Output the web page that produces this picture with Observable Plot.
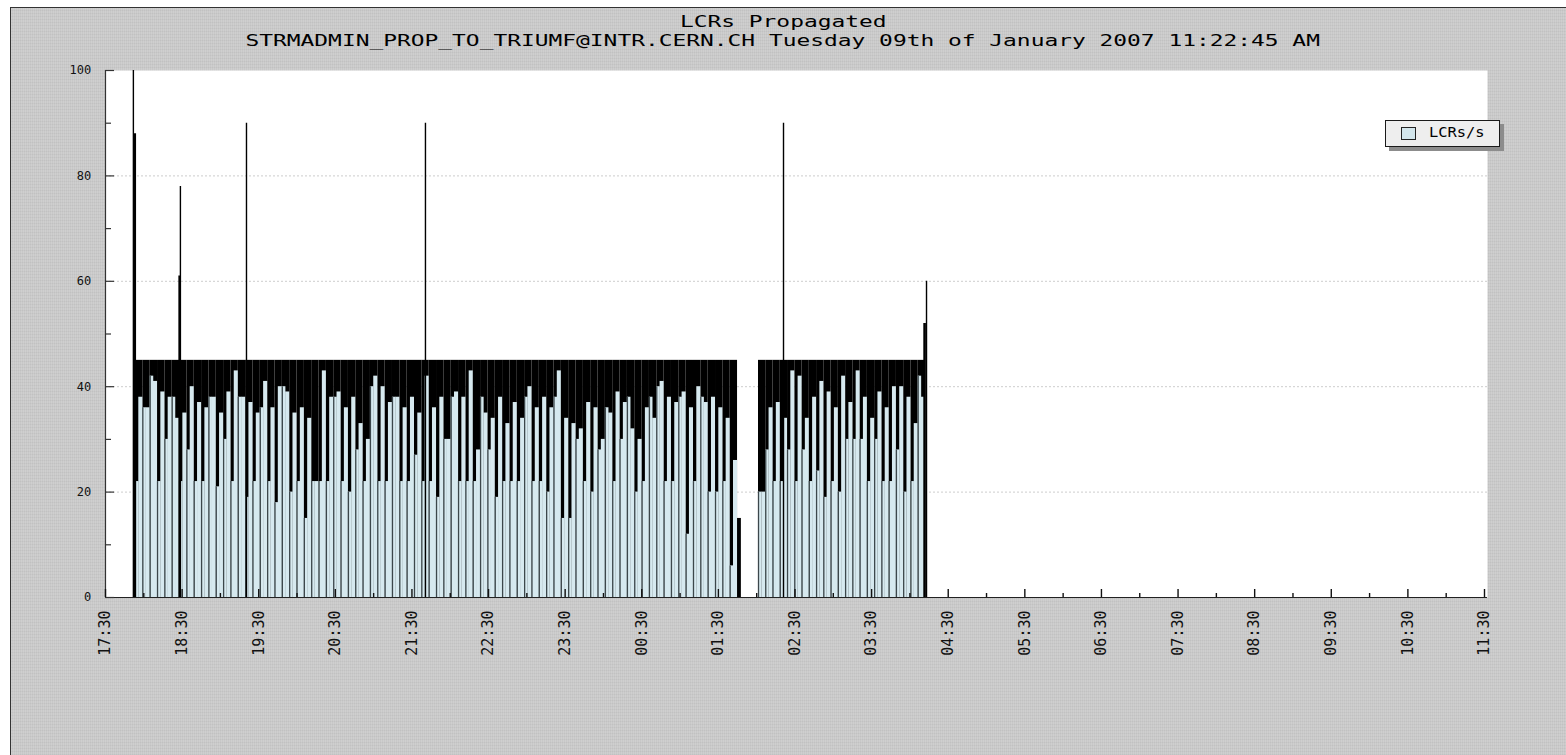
<!DOCTYPE html>
<html>
<head>
<meta charset="utf-8">
<script src="https://cdn.jsdelivr.net/npm/d3@7"></script>
<script src="https://cdn.jsdelivr.net/npm/@observablehq/plot@0.6"></script>
<style>
html,body{margin:0;padding:0;background:#fff;}
#page{position:relative;width:1566px;height:755px;overflow:hidden;background:#fff;}
#frame{position:absolute;left:10px;top:7px;right:0;bottom:0;border-left:1px solid #333;border-top:1px solid #333;
  background-color:#c8c8c8;
  background-image:linear-gradient(90deg, rgba(255,255,255,0.12) 1px, transparent 1px), linear-gradient(0deg, rgba(0,0,0,0.035) 1px, transparent 1px);
  background-size:2px 2px, 3px 3px;}
#chart{position:absolute;left:0;top:0;}
.title{position:absolute;left:0;width:1566px;text-align:center;font-family:"DejaVu Sans Mono",monospace;font-size:16px;line-height:16px;color:#000;white-space:nowrap;}
.title span{display:inline-block;transform:scaleX(1.43);}
#legend{position:absolute;left:1385px;top:120px;width:113px;height:25px;background:#eeeeee;border:1px solid #1a1a1a;box-shadow:4px 4px 0 #8c8c8c;}
#legend .sw{position:absolute;left:15px;top:6px;width:13px;height:11px;background:#d3e6ec;border:1px solid #222;}
#legend .lt{position:absolute;left:43px;top:5px;font-family:"DejaVu Sans Mono",monospace;font-size:13.5px;line-height:13px;color:#000;transform:scaleX(1.14);transform-origin:left center;white-space:nowrap;}
</style>
</head>
<body>
<div id="page">
  <div id="frame"></div>
  <div id="chart"></div>
  <div class="title" style="top:14px"><span>LCRs Propagated</span></div>
  <div class="title" style="top:33px"><span>STRMADMIN_PROP_TO_TRIUMF@INTR.CERN.CH Tuesday 09th of January 2007 11:22:45 AM</span></div>
  <div id="legend"><div class="sw"></div><div class="lt">LCRs/s</div></div>
</div>
<script>
// ---------------- DATA ----------------
const seriesName = "LCRs/s";
const topLevel = 45;

// first run of samples
const block1Start = "17:53:30";
const block1End = "01:45:00";
const block1Fill = [38,36,41,39,38,34,35,40,37,36,38,35,39,43,38,37,35,41,36,40,
                    39,35,36,34,22,43,38,39,36,38,33,30,42,40,37,38,36,38,35,
                    42,36,38,30,39,38,43,28,35,34,38,33,37,34,40,36,38,36,43,34,
                    33,32,37,36,30,35,39,37,32,30,36,34,41,38,37,39,36,40,37,38,36,34,26];
const block1Dip  = [22,36,42,22,30,38,22,28,22,22,38,21,30,22,38,19,22,36,22,18,
                    40,20,22,15,22,22,22,38,22,20,28,22,40,22,22,38,22,22,27,
                    22,22,19,30,38,22,22,22,38,28,19,22,22,22,38,22,22,20,38,15,
                    15,30,22,20,28,36,22,30,38,20,22,38,40,22,22,38,12,22,38,20,20,22,6];

// short last burst before the gap
const tailStart = "01:45:00";
const tailEnd = "01:48:00";
const tailValue = 15;

// second run of samples
const block2Start = "02:01:25";
const block2End = "04:12:10";
const block2Fill = [20,36,37,34,43,42,34,38,41,39,36,42,37,43,38,34,39,36,40,40,38,33,38];
const block2Dip  = [20,28,22,22,28,22,28,22,24,19,22,20,30,30,30,22,30,22,22,28,20,22,42];

// isolated peaks
const thinPeakTimes  = ["17:51:50","18:28:40","19:20:25","21:40:35","02:21:00","04:13:00"];
const thinPeakValues = [100, 78, 90, 90, 90, 60];
const thickPeakTimes  = ["17:52:55","18:28:05","04:11:30"];
const thickPeakValues = [88, 61, 52];

// axes
const xTickLabels = ["17:30","18:30","19:30","20:30","21:30","22:30","23:30","00:30","01:30","02:30",
                     "03:30","04:30","05:30","06:30","07:30","08:30","09:30","10:30","11:30"];
const yTickLabels = [0,20,40,60,80,100];
const yMinorTicks = [10,30,50,70,90];
const yGridLines  = [20,40,60,80];

// ---------------- HELPERS ----------------
const T = s => { const [h,m,sec=0] = s.split(":").map(Number); return new Date(Date.UTC(2007, 0, h < 12 ? 9 : 8, h, m, sec)); };
function buildSlots(start, end, fills, dips) {
  const a = T(start).getTime(), b = T(end).getTime(), n = fills.length, step = (b - a) / n;
  return fills.map((f, i) => ({t0: new Date(a + i*step), t1: new Date(a + (i+1)*step), fill: f, dip: dips[i], top: topLevel}));
}
const slots = buildSlots(block1Start, block1End, block1Fill, block1Dip)
  .concat(buildSlots(block2Start, block2End, block2Fill, block2Dip));
const tail = [{t0: T(tailStart), t1: T(tailEnd), v: tailValue}];
const thinPeaks = thinPeakTimes.map((t,i) => ({t: T(t), v: thinPeakValues[i]}));
const thickPeaks = thickPeakTimes.map((t,i) => ({t: T(t), v: thickPeakValues[i]}));

const x0 = T("17:30"), x1 = T("11:30");
const pxLeft = 105, pxRight = 1484;
const msPerPx = (x1 - x0) / (pxRight - pxLeft);
const pxY = 527 / 100; // px per unit on y
const xMajor = xTickLabels.map(T);
const xMinor = d3.utcHour.range(T("18:00"), T("11:30"));
const LB = "#d6e9ef";

const chart = Plot.plot({
  width: 1566, height: 755,
  marginLeft: 105, marginRight: 79, marginTop: 70, marginBottom: 158,
  style: {background: "transparent", overflow: "visible"},
  x: {type: "utc", domain: [x0, x1], range: [pxLeft, pxRight], axis: null},
  y: {domain: [0, 100], axis: null},
  marks: [
    Plot.frame({fill: "white", stroke: "none"}),
    Plot.ruleY(yGridLines, {stroke: "#cdcdcd", strokeDasharray: "2,2"}),
    // bars
    Plot.rect(slots, {x1: "t0", x2: "t1", y1: 0, y2: "top", fill: "#000"}),
    Plot.rect(slots, {x1: "t0", x2: "t1", y1: 0, y2: "dip", fill: LB, insetRight: 3.8}),
    Plot.rect(slots, {x1: "t0", x2: "t1", y1: 0, y2: "fill", fill: LB, insetLeft: 3.3}),
    Plot.ruleX(slots, {x: "t0", y1: 0, y2: "dip", stroke: "#3c474b", strokeWidth: 1.3}),
    Plot.rect(tail, {x1: "t0", x2: "t1", y1: 0, y2: "v", fill: "#000"}),
    Plot.ruleX(thinPeaks, {x: "t", y1: 0, y2: "v", stroke: "#000", strokeWidth: 1.4}),
    Plot.ruleX(thickPeaks, {x: "t", y1: 0, y2: "v", stroke: "#000", strokeWidth: 2.6}),
    // axis lines
    Plot.ruleY([0], {stroke: "#222", strokeWidth: 1.2}),
    Plot.ruleX([x0], {stroke: "#333", strokeWidth: 1.2}),
    // y ticks (inward)
    Plot.ruleY(yTickLabels, {x1: () => x0, x2: () => new Date(+x0 + 9*msPerPx), stroke: "#333", strokeWidth: 1.2}),
    Plot.ruleY(yMinorTicks, {x1: () => x0, x2: () => new Date(+x0 + 6*msPerPx), stroke: "#333", strokeWidth: 1.2}),
    // x ticks (inward)
    Plot.ruleX(xMajor, {y1: 0, y2: 8/pxY, stroke: "#111", strokeWidth: 1.4}),
    Plot.ruleX(xMinor, {y1: 0, y2: 4/pxY, stroke: "#111", strokeWidth: 1.4}),
    // labels
    Plot.text(yTickLabels, {x: () => x0, y: d => d, text: d => String(d), textAnchor: "end", dx: -14.3, rotate: 0.001,
      fontSize: 12, fontFamily: "DejaVu Sans Mono", fill: "#111", ariaLabel: "y-labels"}),
    Plot.text(xTickLabels, {x: d => T(d), y: () => 0, text: d => d, rotate: -90, textAnchor: "end", dy: 13,
      fontSize: 15, fontFamily: "DejaVu Sans Mono", fill: "#111", ariaLabel: "x-labels"})
  ]
});

chart.querySelectorAll('g[aria-label="x-labels"] text').forEach(el => el.setAttribute("transform", (el.getAttribute("transform") || "") + " scale(0.8,1)"));
chart.querySelectorAll('g[aria-label="y-labels"] text').forEach(el => el.setAttribute("transform", (el.getAttribute("transform") || "") + " scale(1.45,1)"));
document.getElementById("chart").appendChild(chart);
</script>
</body>
</html>
